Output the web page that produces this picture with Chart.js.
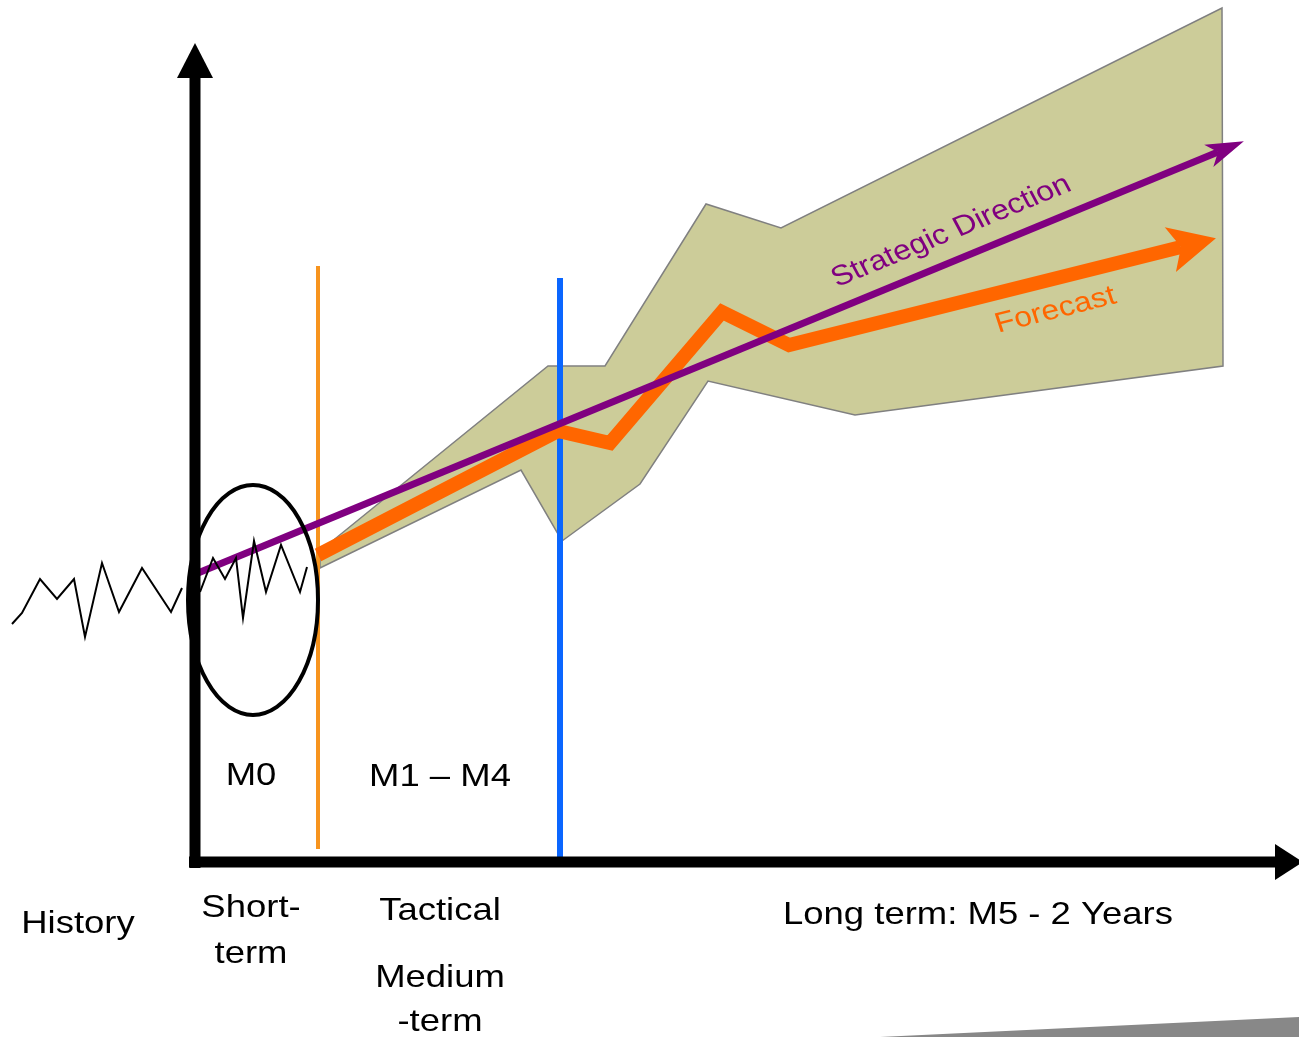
<!DOCTYPE html>
<html>
<head>
<meta charset="utf-8">
<script src="https://cdn.jsdelivr.net/npm/chart.js@4.4.1/dist/chart.umd.min.js"></script>
<style>
  html, body { margin: 0; padding: 0; background: #ffffff; }
  #wrap { width: 1299px; height: 1037px; position: relative; }
</style>
</head>
<body>
<div id="wrap"><canvas id="planning"></canvas></div>
<script>
// Planning horizon: x = time (0 = today), y = level (0 = time axis).
const historyPath   = [[-183,238],[-173,249],[-155,283],[-138,263],[-121,283],[-110,225],[-93,299],[-76,250],[-53,294],[-24,250],[-13,274]];
const shortTermPath = [[5,270],[18,304],[30,283],[41,304],[48,244],[59,321],[71,270],[86,317],[105,270],[112,295]];
const forecastPath  = [[123,307],[363,431],[415,419],[527,550],[594,517],[986,615]];
const strategicPath = [[3,289],[1023,710]];
const uncertaintyBand = [[125,311],[353,496],[410,496],[511,658],[586,634],[1027,854],[1028,496],[660,447],[513,481],[445,378],[367,321],[326,392],[125,294],[125,311]];
const shortTermEdge  = [[123,13],[123,596]];
const mediumTermEdge = [[365,0],[365,584]];
const timeAxis  = [[-6,0],[1080,0]];
const levelAxis = [[0,-6],[0,784]];
const pageShadow = [[685,-175],[1104,-155],[1104,-175]];
// centre x, centre y, radius x, radius y
const focusEllipse = [58, 262, 65, 115];

// Horizon labels: text, x, baseline y
const horizonLabels = [
  ['M0', 56, 77],
  ['M1 \u2013 M4', 245, 76],
  ['History', -117, -71],
  ['Short-', 56, -55],
  ['term', 56, -101],
  ['Tactical', 245, -58],
  ['Medium', 245, -125],
  ['-term', 245, -169],
  ['Long term: M5 - 2 Years', 783, -62]
];
// Labels that ride along a series: series name, x position
const seriesLabels = [
  ['Strategic Direction', 760],
  ['Forecast', 863]
];

const xy = arr => arr.map(([x, y]) => ({ x, y }));

function lineSet(label, data, color, width, order, extra) {
  return Object.assign({
    label, data: xy(data), showLine: true, borderColor: color, borderWidth: width,
    pointRadius: 0, pointHoverRadius: 0, tension: 0, fill: false, order,
    borderCapStyle: 'butt', borderJoinStyle: 'miter', clip: false
  }, extra || {});
}

const datasets = [
  lineSet('shadow', pageShadow, 'rgba(0,0,0,0)', 0, 10, { fill: 'shape', backgroundColor: '#888888' }),
  lineSet('Uncertainty', uncertaintyBand, '#808080', 1.5, 9, { fill: 'shape', backgroundColor: '#cccc99' }),
  lineSet('Short-term edge', shortTermEdge, '#f7941e', 4, 8),
  lineSet('Medium-term edge', mediumTermEdge, '#0a66ff', 6, 7),
  lineSet('Forecast', forecastPath, '#ff6600', 14, 6, { head: { ahead: 36, behind: 11, half: 23 }, textColor: '#ff6600', textOffset: 40 }),
  lineSet('Strategic Direction', strategicPath, '#800080', 7, 5, { head: { ahead: 28, behind: 10, half: 12 }, textColor: '#800080', textOffset: -22 }),
  lineSet('History', historyPath, '#000000', 2, 4),
  lineSet('Short-term', shortTermPath, '#000000', 2, 4),
  lineSet('Time', timeAxis, '#000000', 11, 3, { head: { ahead: 28, behind: 0, half: 18 } }),
  lineSet('Level', levelAxis, '#000000', 11, 3, { head: { ahead: 35, behind: 0, half: 18 } })
];

const STRETCH = 1.14;

const overlay = {
  id: 'overlay',
  afterDatasetsDraw(chart) {
    const ctx = chart.ctx;
    const xs = chart.scales.x, ys = chart.scales.y;
    const px = v => xs.getPixelForValue(v);
    const py = v => ys.getPixelForValue(v);

    // arrowheads at the end of series
    chart.data.datasets.forEach((ds, i) => {
      const head = ds.head;
      if (!head) return;
      const pts = chart.getDatasetMeta(i).data;
      const a = pts[pts.length - 2], b = pts[pts.length - 1];
      const len = Math.hypot(b.x - a.x, b.y - a.y);
      const ux = (b.x - a.x) / len, uy = (b.y - a.y) / len;
      const nx = -uy, ny = ux;
      const bx = b.x - ux * head.behind, by = b.y - uy * head.behind;
      ctx.save();
      ctx.beginPath();
      ctx.moveTo(b.x + ux * head.ahead, b.y + uy * head.ahead);
      ctx.lineTo(bx + nx * head.half, by + ny * head.half);
      ctx.lineTo(b.x, b.y);
      ctx.lineTo(bx - nx * head.half, by - ny * head.half);
      ctx.closePath();
      ctx.fillStyle = ds.borderColor;
      ctx.fill();
      ctx.restore();
    });

    // focus ellipse around the short-term window
    const [ecx, ecy, erx, ery] = focusEllipse;
    ctx.save();
    ctx.beginPath();
    ctx.ellipse(px(ecx), py(ecy), Math.abs(px(ecx + erx) - px(ecx)), Math.abs(py(ecy + ery) - py(ecy)), 0, 0, Math.PI * 2);
    ctx.lineWidth = 4;
    ctx.strokeStyle = '#000000';
    ctx.stroke();
    ctx.restore();

    // horizon labels
    ctx.save();
    ctx.font = '32px "Liberation Sans", Arial, Helvetica, sans-serif';
    ctx.fillStyle = '#000000';
    ctx.textAlign = 'center';
    ctx.textBaseline = 'alphabetic';
    horizonLabels.forEach(([text, x, y]) => {
      ctx.save();
      ctx.translate(px(x), py(y));
      ctx.scale(STRETCH, 1);
      ctx.fillText(text, 0, 0);
      ctx.restore();
    });
    ctx.restore();

    // labels along series
    seriesLabels.forEach(([name, at]) => {
      const idx = chart.data.datasets.findIndex(d => d.label === name);
      const ds = chart.data.datasets[idx];
      const pts = ds.data;
      let k = 0;
      while (k < pts.length - 2 && pts[k + 1].x < at) k++;
      const p0 = pts[k], p1 = pts[k + 1];
      const t = (at - p0.x) / (p1.x - p0.x);
      const yv = p0.y + t * (p1.y - p0.y);
      const dxp = px(p1.x) - px(p0.x), dyp = py(p1.y) - py(p0.y);
      const ang = Math.atan2(dyp, dxp / STRETCH);
      ctx.save();
      ctx.translate(px(at), py(yv) + ds.textOffset);
      ctx.scale(STRETCH, 1);
      ctx.rotate(ang);
      ctx.font = '28px "Liberation Sans", Arial, Helvetica, sans-serif';
      ctx.fillStyle = ds.textColor;
      ctx.textAlign = 'center';
      ctx.textBaseline = 'alphabetic';
      ctx.fillText(name, 0, 0);
      ctx.restore();
    });
  }
};

new Chart(document.getElementById('planning'), {
  type: 'scatter',
  data: { datasets },
  options: {
    responsive: true,
    maintainAspectRatio: false,
    animation: false,
    devicePixelRatio: 1,
    layout: { padding: 0 },
    events: [],
    plugins: { legend: { display: false }, tooltip: { enabled: false }, title: { display: false } },
    scales: {
      x: { type: 'linear', min: -195, max: 1104, display: false },
      y: { type: 'linear', min: -175, max: 862, display: false }
    }
  },
  plugins: [overlay]
});
</script>
</body>
</html>
